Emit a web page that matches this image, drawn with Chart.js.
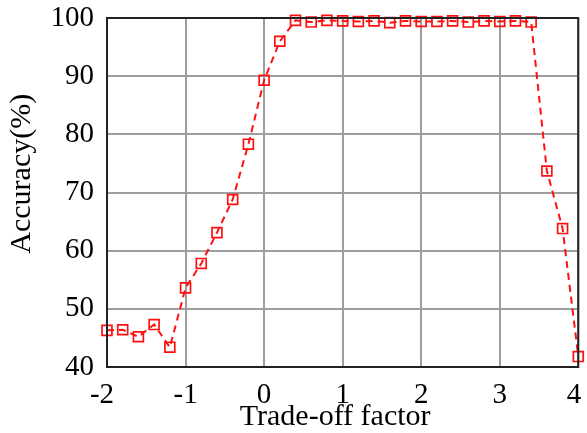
<!DOCTYPE html>
<html lang="en">
<head>
    <meta charset="UTF-8">
    <title>Accuracy vs Trade-off factor</title>
    <style>
        html, body { margin: 0; padding: 0; background: #fff; }
        #wrap { width: 587px; height: 433px; }
    </style>
</head>
<body>
        <div id="wrap">
            <canvas id="myChart" width="587" height="433"></canvas>
        </div>

        <script src="https://cdn.jsdelivr.net/npm/chart.js@4.4.1/dist/chart.umd.min.js"></script>

        <script>
            // trade-off factor values (x) and measured accuracy (%)
            var factors = [-2, -1.8, -1.6, -1.4, -1.2, -1, -0.8, -0.6, -0.4, -0.2,
                           0, 0.2, 0.4, 0.6, 0.8, 1, 1.2, 1.4, 1.6, 1.8,
                           2, 2.2, 2.4, 2.6, 2.8, 3, 3.2, 3.4, 3.6, 3.8, 4];
            var accuracy = [46.3, 46.4, 45.2, 47.3, 43.4, 53.6, 57.8, 63.1, 68.8, 78.3,
                            89.3, 96.0, 99.6, 99.3, 99.6, 99.5, 99.4, 99.5, 99.2, 99.5,
                            99.4, 99.4, 99.5, 99.3, 99.5, 99.4, 99.5, 99.3, 73.7, 63.8, 41.8];
            var xTicks = [-2, -1, 0, 1, 2, 3, 4];
            var yTicks = [40, 50, 60, 70, 80, 90, 100];

            var serif = '"Liberation Serif", "Times New Roman", serif';

            var points = [];
            for (var i = 0; i < factors.length; i++) {
                points.push({x: factors[i], y: accuracy[i]});
            }

            // box around the plot + nudge the end x labels like the original
            var framePlugin = {
                id: 'frame',
                beforeDraw: function(chart) {
                    var items = chart.scales.x.getLabelItems();
                    if (items.length) {
                        items[0].options.translation[0] -= 5;
                        items[items.length - 1].options.textAlign = 'right';
                        items[items.length - 1].options.translation[0] += 3;
                    }
                },
                afterDraw: function(chart) {
                    var a = chart.chartArea;
                    var ctx = chart.ctx;
                    ctx.save();
                    ctx.strokeStyle = '#222';
                    ctx.lineWidth = 2;
                    ctx.strokeRect(a.left, a.top, a.right - a.left, a.bottom - a.top);
                    ctx.restore();
                }
            };

            function createChart(){
                var ctx = document.getElementById("myChart").getContext("2d");
                var myChart = new Chart(ctx, {
                    type: 'scatter',
                    data: {
                        datasets: [{
                            data: points,
                            showLine: true,
                            borderColor: '#ff1010',
                            borderWidth: 2,
                            borderDash: [7, 5],
                            pointStyle: 'rect',
                            pointRadius: 7,
                            pointBorderWidth: 1.7,
                            pointBorderColor: '#ff1010',
                            pointBackgroundColor: 'rgba(255,255,255,0)',
                            clip: false
                        }]
                    },
                    options: {
                        responsive: false,
                        animation: false,
                        layout: { padding: { top: 18, right: 1, left: 0, bottom: 0 } },
                        plugins: {
                            legend: { display: false },
                            tooltip: { enabled: false }
                        },
                        scales: {
                            x: {
                                type: 'linear',
                                min: -2,
                                max: 4,
                                afterBuildTicks: function(scale) {
                                    scale.ticks = xTicks.map(function(v){ return {value: v}; });
                                },
                                afterFit: function(scale) {
                                    scale.height = 66;
                                    scale.paddingLeft = 0;
                                    scale.paddingRight = 0;
                                },
                                grid: { color: '#9e9e9e', lineWidth: 2, drawTicks: false },
                                border: { color: '#222', width: 2 },
                                ticks: {
                                    color: '#000',
                                    padding: 11,
                                    maxRotation: 0,
                                    font: { family: serif, size: 29 }
                                },
                                title: {
                                    display: true,
                                    text: 'Trade-off factor  ',
                                    color: '#000',
                                    padding: { top: 0, bottom: -2 },
                                    font: { family: serif, size: 30 }
                                }
                            },
                            y: {
                                min: 40,
                                max: 100,
                                afterBuildTicks: function(scale) {
                                    scale.ticks = yTicks.map(function(v){ return {value: v}; });
                                },
                                afterFit: function(scale) {
                                    scale.width = 107;
                                    scale.paddingTop = 0;
                                    scale.paddingBottom = 0;
                                },
                                grid: { color: '#9e9e9e', lineWidth: 2, drawTicks: false },
                                border: { color: '#222', width: 2 },
                                ticks: {
                                    color: '#000',
                                    padding: 13,
                                    font: { family: serif, size: 29 }
                                },
                                title: {
                                    display: true,
                                    text: '     Accuracy(%)',
                                    color: '#000',
                                    padding: { top: 4, bottom: 0 },
                                    font: { family: serif, size: 30 }
                                }
                            }
                        }
                    },
                    plugins: [framePlugin]
                });
            }
            createChart();
        </script>
</body>
</html>
